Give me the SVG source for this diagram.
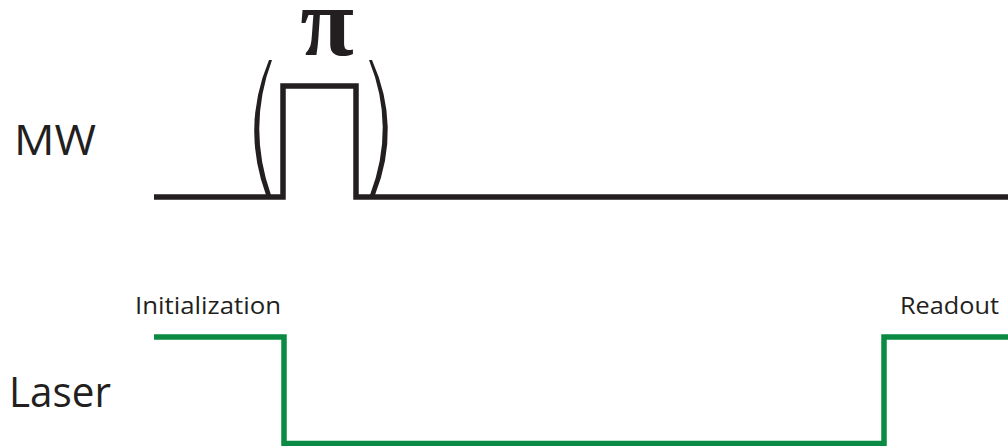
<svg xmlns="http://www.w3.org/2000/svg" width="1008" height="446" viewBox="0 0 1008 446">
<style>
.lbl{font-family:"Open Sans","Liberation Sans",sans-serif;fill:#231f20}
.big{font-size:42px}
.small{font-size:23px}
.mw{fill:none;stroke:#231f20;stroke-width:5.5;stroke-linejoin:miter}
.laser{fill:none;stroke:#0b8a43;stroke-width:5.5;stroke-linejoin:miter}
.paren{fill:#231f20}
</style>
<rect width="1008" height="446" fill="#ffffff"/>
<g id="label-mw"><text class="lbl big" x="14" y="155" textLength="82" lengthAdjust="spacingAndGlyphs">MW</text></g>
<g id="label-laser"><text class="lbl big" x="9" y="407" textLength="102" lengthAdjust="spacingAndGlyphs">Laser</text></g>
<g id="label-init"><text class="lbl small" x="135" y="314" textLength="146" lengthAdjust="spacingAndGlyphs">Initialization</text></g>
<g id="label-readout"><text class="lbl small" x="900" y="314" textLength="99" lengthAdjust="spacingAndGlyphs">Readout</text></g>
<g id="pi-label"><text x="327" y="55" text-anchor="middle" style="font-family:'Liberation Serif',serif;font-size:98px;font-weight:bold;fill:#231f20">π</text></g>
<g id="connectors">
<polyline id="mw-trace" class="mw" points="154,197 283,197 283,86 356,86 356,197 1008,197"/>
<path id="paren-left" class="paren" d="M269,60 Q241,127 266,195 L271,195 Q247,127 272,60 Z"/>
<path id="paren-right" class="paren" d="M372,60 Q402,127 375,195 L370,195 Q396,127 369,60 Z"/>
<polyline id="laser-trace" class="laser" points="154,337 284,337 284,443.5 884,443.5 884,337 1008,337"/>
</g>
</svg>
